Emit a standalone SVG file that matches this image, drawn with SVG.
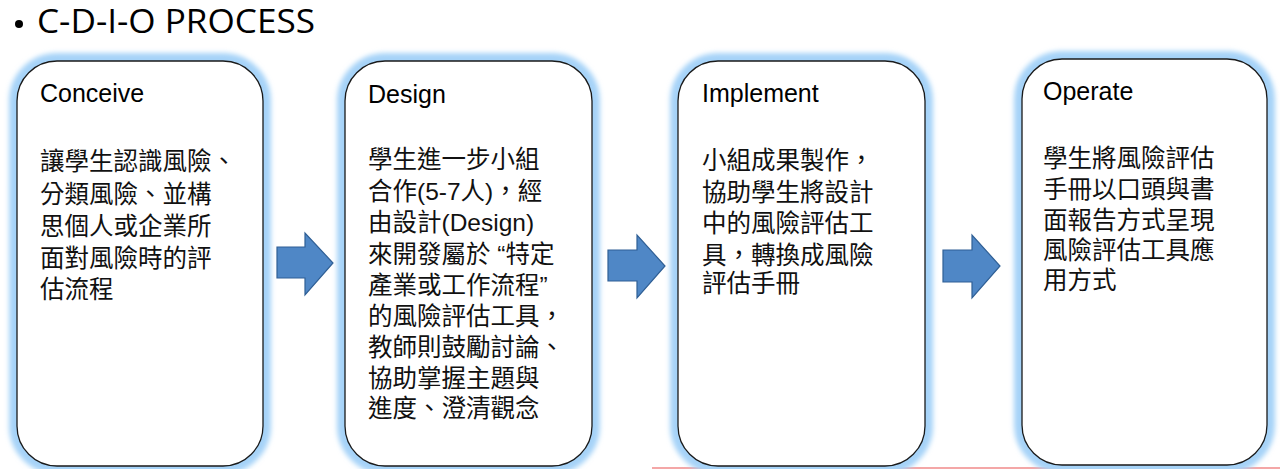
<svg xmlns="http://www.w3.org/2000/svg" width="1280" height="469" viewBox="0 0 1280 469">
<style>
.box{fill:#fff;stroke:#1a1a1a;stroke-width:1.3}
.glow{fill:none;stroke:#a6d3f8;stroke-width:16}
.head{font-family:"Liberation Sans",Arial,sans-serif;font-size:25px;fill:#000}
.body{font-family:"Liberation Sans","Noto Sans CJK TC",sans-serif;font-size:24.5px;fill:#111}
.arrow{fill:#4f87c6;stroke:#2f5f95;stroke-width:1.2}
.title{font-family:"Open Sans","Liberation Sans",sans-serif;font-size:32px;fill:#000}
</style>
<defs>
<filter id="blur" x="-20%" y="-20%" width="140%" height="140%"><feGaussianBlur stdDeviation="2.5"/></filter>
</defs>
<rect width="1280" height="469" fill="#fff"/>
<g id="title">
<circle cx="19" cy="24" r="4" fill="#000"/>
<text class="title" x="37" y="33" textLength="278" lengthAdjust="spacingAndGlyphs">C-D-I-O PROCESS</text>
</g>
<line x1="652" y1="468" x2="1280" y2="468" stroke="#f08a8a" stroke-width="1.5"/>
<g id="conceive">
<rect class="glow" x="17" y="61" width="246" height="405" rx="40" ry="40" filter="url(#blur)"/>
<rect class="box" x="17" y="61" width="246" height="405" rx="40" ry="40"/>
<text class="head" x="40" y="102">Conceive</text>
<text class="body" x="40"><tspan x="40" y="170">讓學生認識風險、</tspan><tspan x="40" y="203">分類風險、並構</tspan><tspan x="40" y="235">思個人或企業所</tspan><tspan x="40" y="267">面對風險時的評</tspan><tspan x="40" y="298">估流程</tspan></text>
</g>
<g id="design">
<rect class="glow" x="345" y="61" width="247" height="405" rx="40" ry="40" filter="url(#blur)"/>
<rect class="box" x="345" y="61" width="247" height="405" rx="40" ry="40"/>
<text class="head" x="368" y="103">Design</text>
<text class="body"><tspan x="368" y="168">學生進一步小組</tspan><tspan x="368" y="200">合作(5-7人)，經</tspan><tspan x="368" y="231">由設計(Design)</tspan><tspan x="368" y="263">來開發屬於 “特定</tspan><tspan x="368" y="294">產業或工作流程”</tspan><tspan x="368" y="325">的風險評估工具，</tspan><tspan x="368" y="356">教師則鼓勵討論、</tspan><tspan x="368" y="387">協助掌握主題與</tspan><tspan x="368" y="417">進度、澄清觀念</tspan></text>
</g>
<g id="implement">
<rect class="glow" x="678" y="61" width="247" height="405" rx="40" ry="40" filter="url(#blur)"/>
<rect class="box" x="678" y="61" width="247" height="405" rx="40" ry="40"/>
<text class="head" x="702" y="102">Implement</text>
<text class="body"><tspan x="702" y="169">小組成果製作，</tspan><tspan x="702" y="201">協助學生將設計</tspan><tspan x="702" y="232">中的風險評估工</tspan><tspan x="702" y="264">具，轉換成風險</tspan><tspan x="702" y="292">評估手冊</tspan></text>
</g>
<g id="operate">
<rect class="glow" x="1022" y="59" width="245" height="406" rx="40" ry="40" filter="url(#blur)"/>
<rect class="box" x="1022" y="59" width="245" height="406" rx="40" ry="40"/>
<text class="head" x="1043" y="100">Operate</text>
<text class="body"><tspan x="1043" y="167">學生將風險評估</tspan><tspan x="1043" y="198">手冊以口頭與書</tspan><tspan x="1043" y="229">面報告方式呈現</tspan><tspan x="1043" y="259">風險評估工具應</tspan><tspan x="1043" y="289">用方式</tspan></text>
</g>
<g id="connectors">
<path class="arrow" d="M277,247 H305 V233 L333,263 L305,295 V278 H277 Z"/>
<path class="arrow" d="M608,250 H637 V235 L665,266 L637,298 V281 H608 Z"/>
<path class="arrow" d="M943,250 H972 V235 L1000,266 L972,298 V282 H943 Z"/>
</g>
</svg>
